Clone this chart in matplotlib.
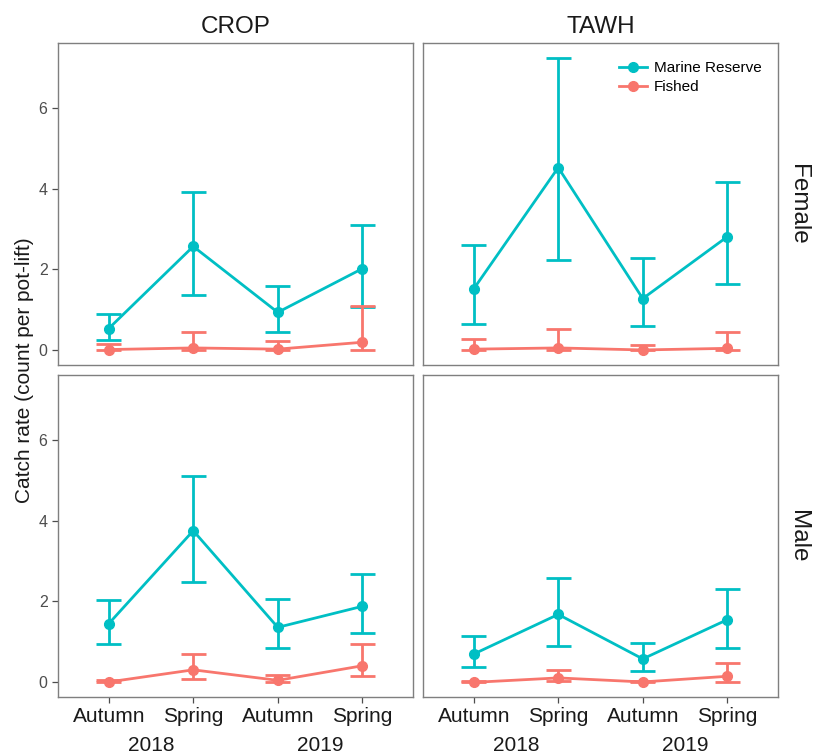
import matplotlib
matplotlib.use("Agg")
import matplotlib.pyplot as plt
from matplotlib.lines import Line2D
from matplotlib.transforms import blended_transform_factory

plt.rcParams['font.family'] = ['Liberation Sans', 'DejaVu Sans']

# Datos
seasons = ["Autumn", "Spring", "Autumn", "Spring"]
years = ["2018", "2019"]
sites = ["CROP", "TAWH"]
sexes = ["Female", "Male"]
groups = ["Marine Reserve", "Fished"]

# media, límite inferior, límite superior  (orden: A2018, S2018, A2019, S2019)
crop_female_mr = [0.54, 2.57, 0.94, 2.02]
crop_female_mr_lo = [0.25, 1.38, 0.46, 1.07]
crop_female_mr_hi = [0.90, 3.91, 1.60, 3.09]
crop_female_f = [0.02, 0.06, 0.03, 0.20]
crop_female_f_lo = [0.00, 0.00, 0.00, 0.01]
crop_female_f_hi = [0.16, 0.46, 0.24, 1.09]

tawh_female_mr = [1.52, 4.52, 1.28, 2.81]
tawh_female_mr_lo = [0.66, 2.24, 0.61, 1.64]
tawh_female_mr_hi = [2.60, 7.23, 2.28, 4.17]
tawh_female_f = [0.03, 0.06, 0.01, 0.05]
tawh_female_f_lo = [0.00, 0.02, 0.00, 0.00]
tawh_female_f_hi = [0.28, 0.54, 0.14, 0.46]

crop_male_mr = [1.45, 3.75, 1.36, 1.88]
crop_male_mr_lo = [0.94, 2.48, 0.85, 1.21]
crop_male_mr_hi = [2.03, 5.10, 2.05, 2.67]
crop_male_f = [0.01, 0.31, 0.05, 0.41]
crop_male_f_lo = [0.00, 0.09, 0.00, 0.15]
crop_male_f_hi = [0.07, 0.70, 0.17, 0.95]

tawh_male_mr = [0.70, 1.68, 0.58, 1.55]
tawh_male_mr_lo = [0.37, 0.90, 0.27, 0.84]
tawh_male_mr_hi = [1.14, 2.59, 0.98, 2.31]
tawh_male_f = [0.00, 0.11, 0.01, 0.15]
tawh_male_f_lo = [0.00, 0.03, 0.00, 0.00]
tawh_male_f_hi = [0.03, 0.30, 0.03, 0.47]

paneles = {
    ("Female", "CROP"): [(crop_female_mr, crop_female_mr_lo, crop_female_mr_hi),
                         (crop_female_f, crop_female_f_lo, crop_female_f_hi)],
    ("Female", "TAWH"): [(tawh_female_mr, tawh_female_mr_lo, tawh_female_mr_hi),
                         (tawh_female_f, tawh_female_f_lo, tawh_female_f_hi)],
    ("Male", "CROP"): [(crop_male_mr, crop_male_mr_lo, crop_male_mr_hi),
                       (crop_male_f, crop_male_f_lo, crop_male_f_hi)],
    ("Male", "TAWH"): [(tawh_male_mr, tawh_male_mr_lo, tawh_male_mr_hi),
                       (tawh_male_f, tawh_male_f_lo, tawh_male_f_hi)],
}

colores = ["#00BFC4", "#F8766D"]
borde = "#7F7F7F"
x = [1, 2, 3, 4]

fig = plt.figure(figsize=(8.18, 7.53), dpi=100)

W, H = 818, 753
lefts = [58, 423]
tops = [43, 375]
pw, ph = 355, 322

axes = {}
for i, sexo in enumerate(sexes):
    for j, sitio in enumerate(sites):
        ax = fig.add_axes([lefts[j] / W, (H - tops[i] - ph) / H, pw / W, ph / H])
        axes[(sexo, sitio)] = ax
        for k, (media, lo, hi) in enumerate(paneles[(sexo, sitio)]):
            c = colores[k]
            ax.vlines(x, lo, hi, color=c, lw=2.0, zorder=2 + k)
            ax.hlines(lo, [v - 0.15 for v in x], [v + 0.15 for v in x], color=c, lw=2.0, zorder=2 + k)
            ax.hlines(hi, [v - 0.15 for v in x], [v + 0.15 for v in x], color=c, lw=2.0, zorder=2 + k)
            ax.plot(x, media, color=c, lw=2.0, marker="o", ms=7, zorder=2 + k)
        ax.set_xlim(0.4, 4.6)
        ax.set_ylim(-0.362, 7.60)
        ax.set_yticks([0, 2, 4, 6])
        ax.set_xticks(x)
        for s in ax.spines.values():
            s.set_color(borde)
            s.set_linewidth(1.0)
        ax.tick_params(colors="#4D4D4D", length=4, width=0.9, labelsize=11.5)
        if j == 1:
            ax.tick_params(axis="y", left=False, labelleft=False)
        if i == 0:
            ax.tick_params(axis="x", bottom=False, labelbottom=False)
            ax.set_title(sitio, fontsize=17.5, color="#1A1A1A", pad=7)
        else:
            ax.set_xticklabels(seasons, fontsize=15, color="#1A1A1A")
            tr = blended_transform_factory(ax.transData, ax.transAxes)
            ax.text(1.5, -0.12, years[0], transform=tr, ha="center", va="top",
                    fontsize=15, color="#1A1A1A")
            ax.text(3.5, -0.12, years[1], transform=tr, ha="center", va="top",
                    fontsize=15, color="#1A1A1A")
        if j == 1:
            ax.text(1.025, 0.5, sexo, transform=ax.transAxes, rotation=-90,
                    ha="left", va="center", fontsize=17.5, color="#1A1A1A")

fig.text(25 / W, 1 - 370 / H, "Catch rate (count per pot-lift)", rotation=90,
         ha="center", va="center", fontsize=15, color="#1A1A1A")

handles = [Line2D([], [], color=c, lw=2.0, marker="o", ms=7) for c in colores]
axes[("Female", "TAWH")].legend(handles, groups, loc="upper right", frameon=False,
                                fontsize=11, handlelength=1.8, borderaxespad=0,
                                bbox_to_anchor=(1 - 10 / pw, 1 - 12 / ph),
                                labelspacing=0.35, handletextpad=0.5)

fig.savefig("out.png", dpi=100)
